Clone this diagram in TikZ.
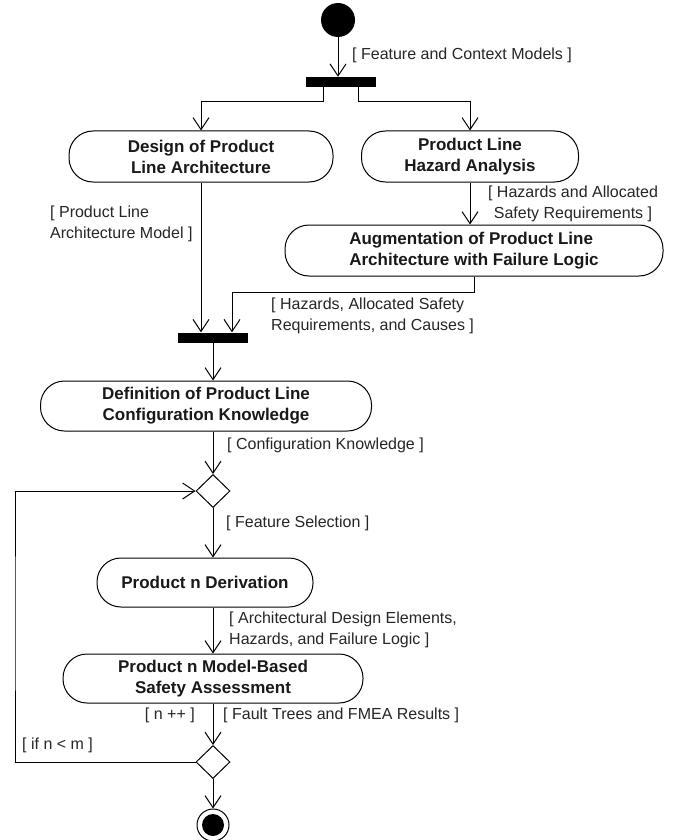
\documentclass[tikz,border=0pt]{standalone}
\usepackage{fontspec}
\setmainfont{Liberation Sans}
\usetikzlibrary{arrows.meta,shapes.geometric,calc}
\tikzset{
  act/.style={draw, line width=1pt, rounded corners=24pt, font=\bfseries\fontsize{17}{21}\selectfont, align=center, inner sep=0pt, text=black!90},
  lbl/.style={font=\fontsize{16}{21.5}\selectfont, text=black!85, inner sep=0pt},
  bar/.style={fill=black, draw=none, minimum width=70pt, minimum height=10pt, inner sep=0pt},
  dec/.style={draw, line width=1pt, diamond, minimum width=34pt, minimum height=33pt, inner sep=0pt},
  flow/.style={line width=1pt, -{Straight Barb[length=12pt,width=16pt,line width=1pt]}},
  plain/.style={line width=1pt}
}
\begin{document}
\begin{tikzpicture}[x=1pt,y=-1pt]
\useasboundingbox[fill=white] (0,0) rectangle (676,840);
% start and fork
\node[circle, fill=black, minimum size=34pt, inner sep=0pt] (start) at (338,20) {};
\node[bar] (bar1) at (341,82) {};
% activities
\node[act, minimum width=264pt, minimum height=51pt] (A) at (201,156.5) {Design of Product\\Line Architecture};
\node[act, minimum width=217pt, minimum height=51pt] (B) at (470,156.5) {Product Line\\Hazard Analysis};
\node[act, minimum width=378pt, minimum height=51pt, align=left] (C) at (474,250.5) {Augmentation of Product Line\\Architecture with Failure Logic};
\node[bar] (bar2) at (213,337.5) {};
\node[act, minimum width=331pt, minimum height=50pt] (D) at (206,406) {Definition of Product Line\\Configuration Knowledge};
\node[dec] (d1) at (213,491) {};
\node[act, minimum width=216pt, minimum height=49pt] (E) at (205,582.5) {Product n Derivation};
\node[act, minimum width=300pt, minimum height=49pt] (F) at (213,678.5) {Product n Model-Based\\Safety Assessment};
\node[dec] (d2) at (213,762) {};
\node[circle, draw, line width=1pt, minimum size=32pt, inner sep=0pt] (endo) at (213,825) {};
\node[circle, fill=black, minimum size=22pt, inner sep=0pt] (endi) at (213,825) {};
\coordinate (jc) at (232,292);
\coordinate (loop) at (15,620);
% labels
\node[lbl, anchor=west] (l1) at (352,55) {[ Feature and Context Models ]};
\node[lbl, align=center] (l2) at (573,204) {[ Hazards and Allocated\\ Safety Requirements ]};
\node[lbl, align=left, anchor=west] (l3) at (50,224) {[ Product Line\\Architecture Model ]};
\node[lbl, align=left, anchor=west] (l4) at (271,316) {[ Hazards, Allocated Safety\\Requirements, and Causes ]};
\node[lbl, anchor=west] (l5) at (227,445) {[ Configuration Knowledge ]};
\node[lbl, anchor=west] (l6) at (226,523) {[ Feature Selection ]};
\node[lbl, align=left, anchor=west] (l7) at (229,630) {[ Architectural Design Elements,\\Hazards, and Failure Logic ]};
\node[lbl, anchor=east] (l8) at (195,715) {[ n ++ ]};
\node[lbl, anchor=west] (l9) at (223,715) {[ Fault Trees and FMEA Results ]};
\node[lbl, anchor=west] (l10) at (22,745) {[ if n < m ]};
% connectors
\draw[flow] (start.south) -- (start.south |- bar1.north);
\draw[flow] ([xshift=-18pt]bar1.south) -- ++(0,14) -| (A.north);
\draw[flow] ([xshift=17pt]bar1.south) -- ++(0,14) -| (B.north);
\draw[flow] (B.south) -- (B.south |- C.north);
\draw[flow] (A.south) -- (A.south |- bar2.north);
\draw[flow] (C.south) |- (jc) -- (jc |- bar2.north);
\draw[flow] (bar2.south) -- (bar2.south |- D.north);
\draw[flow] (bar2.south |- D.south) -- (d1.north);
\draw[flow] (d1.south) -- (d1.south |- E.north);
\draw[flow] (d1.south |- E.south) -- (F.north);
\draw[flow] (F.south) -- (d2.north);
\draw[flow] (d2.south) -- (endo.north);
\draw[flow] (d2.west) -| (loop) |- (d1.west);
\end{tikzpicture}
\end{document}
